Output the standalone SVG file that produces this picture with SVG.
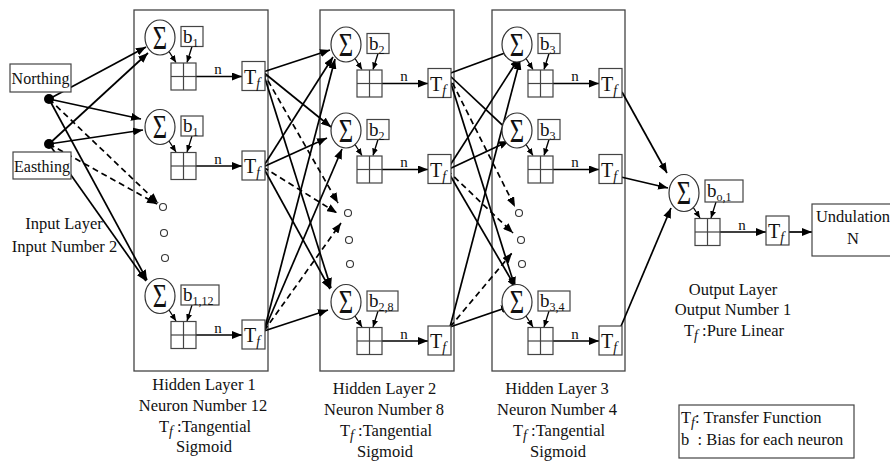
<svg xmlns="http://www.w3.org/2000/svg" width="890" height="464" viewBox="0 0 890 464">
<defs>
<marker id="ah" markerWidth="10" markerHeight="8" refX="10" refY="4" orient="auto" markerUnits="userSpaceOnUse"><path d="M0,0 L10,4 L0,8 z" fill="#000"/></marker>
<marker id="as" markerWidth="7" markerHeight="6" refX="7" refY="3" orient="auto" markerUnits="userSpaceOnUse"><path d="M0,0 L7,3 L0,6 z" fill="#000"/></marker>
</defs>
<style>
text{font-family:"Liberation Serif","Times New Roman",serif;fill:#111}
.lbl{font-size:16.5px;text-anchor:middle}
.bx{fill:#fff;stroke:#444;stroke-width:1.2}
.ly{fill:none;stroke:#444;stroke-width:1.3}
.sg{fill:#fff;stroke:#333;stroke-width:1.2}
.sym{font-size:26px;text-anchor:middle}
.b{font-size:19px}
.sub{font-size:12px}
.tf{font-size:20px}
.fi{font-size:14px;font-style:italic}
.pl{stroke:#444;stroke-width:1.2}
.nn{font-size:15px;text-anchor:middle}
.dot{fill:#fff;stroke:#333;stroke-width:1.1}
.c{stroke:#000;stroke-width:1.7;fill:none;marker-end:url(#ah)}
.d{stroke-dasharray:6 4}
.s{stroke:#000;stroke-width:1.3;fill:none;marker-end:url(#as)}
</style>

<g id="layer-boxes">
<rect class="ly" x="134" y="10" width="134" height="361"/>
<rect class="ly" x="320" y="10" width="134" height="361"/>
<rect class="ly" x="492" y="10" width="133" height="361"/>
</g>

<g id="connectors">
<!-- inputs to hidden layer 1 -->
<line class="c" x1="49" y1="99" x2="146" y2="47"/>
<line class="c" x1="49" y1="144" x2="148" y2="53"/>
<line class="c" x1="49" y1="99" x2="141" y2="119"/>
<line class="c" x1="49" y1="144" x2="143" y2="130"/>
<line class="c d" x1="49" y1="99" x2="158" y2="203"/>
<line class="c d" x1="49" y1="144" x2="157" y2="204"/>
<line class="c" x1="49" y1="99" x2="147" y2="280"/>
<line class="c" x1="49" y1="144" x2="146" y2="281"/>
<!-- hidden 1 to hidden 2 -->
<line class="c" x1="263" y1="72" x2="330" y2="50"/>
<line class="c" x1="263" y1="72" x2="331" y2="127"/>
<line class="c d" x1="263" y1="72" x2="338" y2="203"/>
<line class="c" x1="263" y1="72" x2="331" y2="288"/>
<line class="c" x1="263" y1="167" x2="333" y2="57"/>
<line class="c" x1="263" y1="167" x2="327" y2="138"/>
<line class="c d" x1="263" y1="167" x2="337" y2="213"/>
<line class="c" x1="263" y1="167" x2="330" y2="289"/>
<line class="c" x1="264" y1="331" x2="335" y2="59"/>
<line class="c" x1="264" y1="331" x2="342" y2="149"/>
<line class="c d" x1="264" y1="331" x2="341" y2="223"/>
<line class="c" x1="264" y1="331" x2="328" y2="310"/>
<!-- hidden 2 to hidden 3 -->
<line class="c" x1="448" y1="74" x2="513" y2="50"/>
<line class="c" x1="448" y1="74" x2="514" y2="136"/>
<line class="c d" x1="448" y1="74" x2="515" y2="207"/>
<line class="c" x1="448" y1="74" x2="515" y2="287"/>
<line class="c" x1="447" y1="170" x2="519" y2="58"/>
<line class="c" x1="447" y1="170" x2="509" y2="141"/>
<line class="c d" x1="447" y1="170" x2="513" y2="233"/>
<line class="c" x1="447" y1="170" x2="516" y2="288"/>
<line class="c" x1="450" y1="327" x2="520" y2="60"/>
<line class="c d" x1="450" y1="327" x2="512" y2="253"/>
<line class="c" x1="450" y1="327" x2="511" y2="306"/>
<!-- hidden 3 to output -->
<line class="c" x1="622" y1="92" x2="667" y2="173"/>
<line class="c" x1="621" y1="177" x2="668" y2="188"/>
<line class="c" x1="619" y1="331" x2="671" y2="208"/>
<!-- inside neurons: sum->plus, bias->plus, n -->
<line class="s" x1="169" y1="51.5" x2="176" y2="62.5"/><line class="s" x1="192" y1="46.5" x2="187" y2="62.5"/><line class="c" x1="196" y1="76.5" x2="242" y2="76.5"/>
<line class="s" x1="169" y1="141" x2="176" y2="152"/><line class="s" x1="192" y1="136" x2="187" y2="152"/><line class="c" x1="196" y1="166" x2="242" y2="166"/>
<line class="s" x1="169" y1="310" x2="176" y2="321"/><line class="s" x1="192" y1="305" x2="187" y2="321"/><line class="c" x1="196" y1="335" x2="242" y2="335"/>
<line class="s" x1="355" y1="58.5" x2="362" y2="69.5"/><line class="s" x1="378" y1="53.5" x2="373" y2="69.5"/><line class="c" x1="382" y1="83.5" x2="428" y2="83.5"/>
<line class="s" x1="355" y1="144.5" x2="362" y2="155.5"/><line class="s" x1="378" y1="139.5" x2="373" y2="155.5"/><line class="c" x1="382" y1="169.5" x2="428" y2="169.5"/>
<line class="s" x1="355" y1="316" x2="362" y2="327"/><line class="s" x1="378" y1="311" x2="373" y2="327"/><line class="c" x1="382" y1="341" x2="428" y2="341"/>
<line class="s" x1="526" y1="58.5" x2="533" y2="69.5"/><line class="s" x1="549" y1="53.5" x2="544" y2="69.5"/><line class="c" x1="553" y1="83.5" x2="599" y2="83.5"/>
<line class="s" x1="526" y1="144.5" x2="533" y2="155.5"/><line class="s" x1="549" y1="139.5" x2="544" y2="155.5"/><line class="c" x1="553" y1="169.5" x2="599" y2="169.5"/>
<line class="s" x1="526" y1="316" x2="533" y2="327"/><line class="s" x1="549" y1="311" x2="544" y2="327"/><line class="c" x1="553" y1="341" x2="599" y2="341"/>
<line class="s" x1="693" y1="207" x2="700" y2="218"/><line class="s" x1="716" y1="202" x2="711" y2="218"/><line class="c" x1="720" y1="232" x2="766" y2="232"/>
<line class="c" x1="789" y1="232" x2="812" y2="232"/>
</g>

<g id="input-northing">
<rect class="bx" x="10" y="64" width="61" height="28"/>
<text x="40.5" y="84" font-size="16" text-anchor="middle">Northing</text>
<circle cx="49" cy="99" r="5" fill="#000"/>
</g>
<g id="input-easthing">
<rect class="bx" x="13" y="152" width="58" height="27"/>
<text x="42" y="172" font-size="16" text-anchor="middle">Easthing</text>
<circle cx="49" cy="144" r="5" fill="#000"/>
</g>
<g id="input-label">
<text class="lbl" x="64" y="229">Input Layer</text>
<text class="lbl" x="64.5" y="252">Input Number 2</text>
</g>

<!-- Hidden layer 1 -->
<g id="h1-n1">
<ellipse class="sg" cx="160" cy="37.5" rx="15" ry="17.5"/><text class="sym" transform="translate(160,37.5) scale(0.95,1.3)" x="0" y="8.6">Σ</text>
<rect class="bx" x="181" y="26.5" width="22" height="20"/><text class="b" x="183" y="42.5">b<tspan class="sub" dy="4">1</tspan></text>
<rect class="bx" x="171" y="63" width="25" height="27"/><line class="pl" x1="183.5" y1="63" x2="183.5" y2="90"/><line class="pl" x1="171" y1="76.5" x2="196" y2="76.5"/>
<text class="nn" x="218" y="74">n</text>
<rect class="bx" x="242" y="61.5" width="23" height="29"/><text class="tf" x="244" y="83.5">T<tspan class="fi" dy="4">f</tspan></text>
</g>
<g id="h1-n2">
<ellipse class="sg" cx="160" cy="127" rx="15" ry="17.5"/><text class="sym" transform="translate(160,127) scale(0.95,1.3)" x="0" y="8.6">Σ</text>
<rect class="bx" x="181" y="116" width="22" height="20"/><text class="b" x="183" y="132">b<tspan class="sub" dy="4">1</tspan></text>
<rect class="bx" x="171" y="152.5" width="25" height="27"/><line class="pl" x1="183.5" y1="152.5" x2="183.5" y2="179.5"/><line class="pl" x1="171" y1="166" x2="196" y2="166"/>
<text class="nn" x="218" y="163.5">n</text>
<rect class="bx" x="242" y="151" width="23" height="29"/><text class="tf" x="244" y="173">T<tspan class="fi" dy="4">f</tspan></text>
</g>
<g id="h1-more">
<circle class="dot" cx="163" cy="207" r="3.5"/><circle class="dot" cx="164" cy="233" r="3.5"/><circle class="dot" cx="165" cy="258" r="3.5"/>
</g>
<g id="h1-n12">
<ellipse class="sg" cx="160" cy="296" rx="15" ry="17.5"/><text class="sym" transform="translate(160,296) scale(0.95,1.3)" x="0" y="8.6">Σ</text>
<rect class="bx" x="181" y="285" width="38" height="20"/><text class="b" x="183" y="301">b<tspan class="sub" dy="4">1,12</tspan></text>
<rect class="bx" x="171" y="321.5" width="25" height="27"/><line class="pl" x1="183.5" y1="321.5" x2="183.5" y2="348.5"/><line class="pl" x1="171" y1="335" x2="196" y2="335"/>
<text class="nn" x="218" y="332.5">n</text>
<rect class="bx" x="242" y="320" width="23" height="29"/><text class="tf" x="244" y="342">T<tspan class="fi" dy="4">f</tspan></text>
</g>
<g id="h1-label">
<text class="lbl" x="204" y="390">Hidden Layer 1</text>
<text class="lbl" x="203" y="411">Neuron Number 12</text>
<text class="lbl" x="205" y="432">T<tspan class="fi" font-size="11" dy="4">f</tspan><tspan dy="-4"> :Tangential</tspan></text>
<text class="lbl" x="204" y="452">Sigmoid</text>
</g>

<!-- Hidden layer 2 -->
<g id="h2-n1">
<ellipse class="sg" cx="346" cy="44.5" rx="15" ry="17.5"/><text class="sym" transform="translate(346,44.5) scale(0.95,1.3)" x="0" y="8.6">Σ</text>
<rect class="bx" x="367" y="33.5" width="22" height="20"/><text class="b" x="369" y="49.5">b<tspan class="sub" dy="4">2</tspan></text>
<rect class="bx" x="357" y="70" width="25" height="27"/><line class="pl" x1="369.5" y1="70" x2="369.5" y2="97"/><line class="pl" x1="357" y1="83.5" x2="382" y2="83.5"/>
<text class="nn" x="404" y="81">n</text>
<rect class="bx" x="428" y="68.5" width="23" height="29"/><text class="tf" x="430" y="90.5">T<tspan class="fi" dy="4">f</tspan></text>
</g>
<g id="h2-n2">
<ellipse class="sg" cx="346" cy="130.5" rx="15" ry="17.5"/><text class="sym" transform="translate(346,130.5) scale(0.95,1.3)" x="0" y="8.6">Σ</text>
<rect class="bx" x="367" y="119.5" width="22" height="20"/><text class="b" x="369" y="135.5">b<tspan class="sub" dy="4">2</tspan></text>
<rect class="bx" x="357" y="156" width="25" height="27"/><line class="pl" x1="369.5" y1="156" x2="369.5" y2="183"/><line class="pl" x1="357" y1="169.5" x2="382" y2="169.5"/>
<text class="nn" x="404" y="167">n</text>
<rect class="bx" x="428" y="154.5" width="23" height="29"/><text class="tf" x="430" y="176.5">T<tspan class="fi" dy="4">f</tspan></text>
</g>
<g id="h2-more">
<circle class="dot" cx="348" cy="213" r="3.5"/><circle class="dot" cx="349" cy="240" r="3.5"/><circle class="dot" cx="350" cy="264" r="3.5"/>
</g>
<g id="h2-n8">
<ellipse class="sg" cx="346" cy="302" rx="15" ry="17.5"/><text class="sym" transform="translate(346,302) scale(0.95,1.3)" x="0" y="8.6">Σ</text>
<rect class="bx" x="367" y="291" width="31" height="20"/><text class="b" x="369" y="307">b<tspan class="sub" dy="4">2,8</tspan></text>
<rect class="bx" x="357" y="327.5" width="25" height="27"/><line class="pl" x1="369.5" y1="327.5" x2="369.5" y2="354.5"/><line class="pl" x1="357" y1="341" x2="382" y2="341"/>
<text class="nn" x="404" y="338.5">n</text>
<rect class="bx" x="428" y="326" width="23" height="29"/><text class="tf" x="430" y="348">T<tspan class="fi" dy="4">f</tspan></text>
</g>
<g id="h2-label">
<text class="lbl" x="384.5" y="394">Hidden Layer 2</text>
<text class="lbl" x="384" y="415">Neuron Number 8</text>
<text class="lbl" x="386" y="436">T<tspan class="fi" font-size="11" dy="4">f</tspan><tspan dy="-4"> :Tangential</tspan></text>
<text class="lbl" x="385" y="457">Sigmoid</text>
</g>

<!-- Hidden layer 3 -->
<g id="h3-n1">
<ellipse class="sg" cx="517" cy="44.5" rx="15" ry="17.5"/><text class="sym" transform="translate(517,44.5) scale(0.95,1.3)" x="0" y="8.6">Σ</text>
<rect class="bx" x="538" y="33.5" width="22" height="20"/><text class="b" x="540" y="49.5">b<tspan class="sub" dy="4">3</tspan></text>
<rect class="bx" x="528" y="70" width="25" height="27"/><line class="pl" x1="540.5" y1="70" x2="540.5" y2="97"/><line class="pl" x1="528" y1="83.5" x2="553" y2="83.5"/>
<text class="nn" x="575" y="81">n</text>
<rect class="bx" x="599" y="68.5" width="23" height="29"/><text class="tf" x="601" y="90.5">T<tspan class="fi" dy="4">f</tspan></text>
</g>
<g id="h3-n2">
<ellipse class="sg" cx="517" cy="130.5" rx="15" ry="17.5"/><text class="sym" transform="translate(517,130.5) scale(0.95,1.3)" x="0" y="8.6">Σ</text>
<rect class="bx" x="538" y="119.5" width="22" height="20"/><text class="b" x="540" y="135.5">b<tspan class="sub" dy="4">3</tspan></text>
<rect class="bx" x="528" y="156" width="25" height="27"/><line class="pl" x1="540.5" y1="156" x2="540.5" y2="183"/><line class="pl" x1="528" y1="169.5" x2="553" y2="169.5"/>
<text class="nn" x="575" y="167">n</text>
<rect class="bx" x="599" y="154.5" width="23" height="29"/><text class="tf" x="601" y="176.5">T<tspan class="fi" dy="4">f</tspan></text>
</g>
<g id="h3-more">
<circle class="dot" cx="519" cy="213" r="3.5"/><circle class="dot" cx="521" cy="240" r="3.5"/><circle class="dot" cx="522" cy="264" r="3.5"/>
</g>
<g id="h3-n4">
<ellipse class="sg" cx="517" cy="302" rx="15" ry="17.5"/><text class="sym" transform="translate(517,302) scale(0.95,1.3)" x="0" y="8.6">Σ</text>
<rect class="bx" x="538" y="291" width="32" height="20"/><text class="b" x="540" y="307">b<tspan class="sub" dy="4">3,4</tspan></text>
<rect class="bx" x="528" y="327.5" width="25" height="27"/><line class="pl" x1="540.5" y1="327.5" x2="540.5" y2="354.5"/><line class="pl" x1="528" y1="341" x2="553" y2="341"/>
<text class="nn" x="575" y="338.5">n</text>
<rect class="bx" x="599" y="326" width="23" height="29"/><text class="tf" x="601" y="348">T<tspan class="fi" dy="4">f</tspan></text>
</g>
<g id="h3-label">
<text class="lbl" x="557" y="394">Hidden Layer 3</text>
<text class="lbl" x="557" y="415">Neuron Number 4</text>
<text class="lbl" x="559" y="436">T<tspan class="fi" font-size="11" dy="4">f</tspan><tspan dy="-4"> :Tangential</tspan></text>
<text class="lbl" x="558" y="457">Sigmoid</text>
</g>

<!-- Output layer -->
<g id="out-n1">
<ellipse class="sg" cx="684" cy="193" rx="15" ry="18.5"/><text class="sym" transform="translate(684,193) scale(0.95,1.3)" x="0" y="8.6">Σ</text>
<rect class="bx" x="705" y="180" width="38" height="22"/><text class="b" x="707" y="197">b<tspan class="sub" dy="4">o,1</tspan></text>
<rect class="bx" x="695" y="218.5" width="25" height="27"/><line class="pl" x1="707.5" y1="218.5" x2="707.5" y2="245.5"/><line class="pl" x1="695" y1="232" x2="720" y2="232"/>
<text class="nn" x="742" y="229.5">n</text>
<rect class="bx" x="766" y="216" width="23" height="29"/><text class="tf" x="768" y="238">T<tspan class="fi" dy="4">f</tspan></text>
</g>
<g id="out-undulation">
<rect class="bx" x="812" y="204" width="84" height="52"/>
<text class="lbl" x="853" y="222">Undulation</text>
<text class="lbl" x="853" y="244">N</text>
</g>
<g id="out-label">
<text class="lbl" x="733" y="295">Output Layer</text>
<text class="lbl" x="733" y="315">Output Number 1</text>
<text class="lbl" x="734" y="336">T<tspan class="fi" font-size="11" dy="4">f</tspan><tspan dy="-4"> :Pure Linear</tspan></text>
</g>

<g id="legend">
<rect class="bx" x="679" y="405" width="175" height="53"/>
<text x="681" y="423" font-size="16.5">T<tspan class="fi" font-size="11" dy="4">f</tspan><tspan dy="-4">: Transfer Function</tspan></text>
<text x="681" y="445" font-size="16.5" xml:space="preserve">b  : Bias for each neuron</text>
</g>
</svg>
